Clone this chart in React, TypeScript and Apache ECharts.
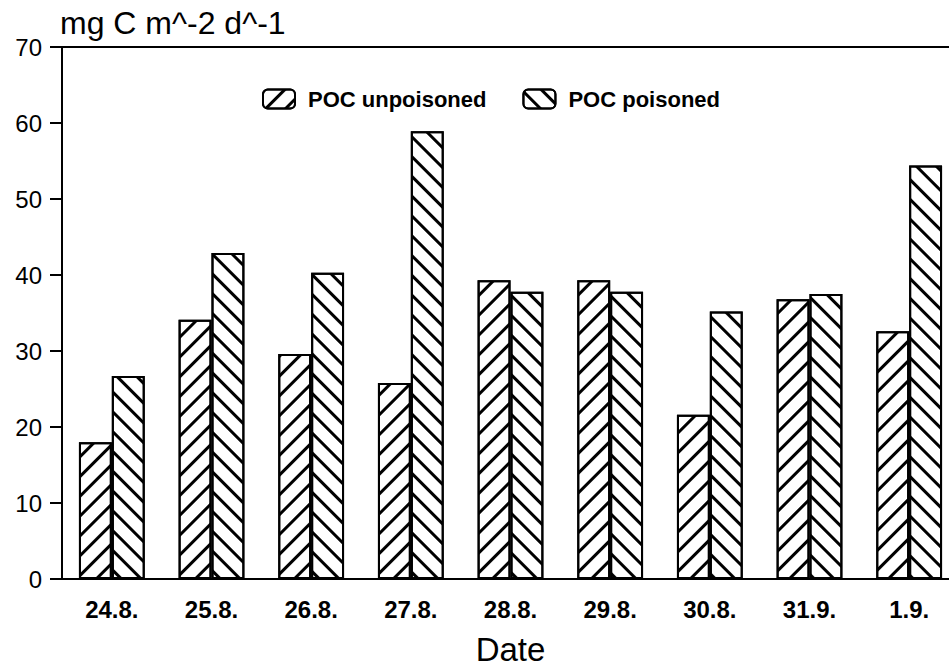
import React, { useEffect, useRef } from "react";
import * as echarts from "echarts";

const categories = ["24.8.", "25.8.", "26.8.", "27.8.", "28.8.", "29.8.", "30.8.", "31.9.", "1.9."];
const unpoisoned = [18.0, 34.1, 29.6, 25.8, 39.3, 39.3, 21.6, 36.8, 32.6];
const poisoned = [26.7, 42.9, 40.3, 58.9, 37.8, 37.8, 35.2, 37.5, 54.4];
const yTicks = { min: 0, max: 70, interval: 10 };

const FONT = "Liberation Sans, Arial, sans-serif";

export default function App() {
  const ref = useRef<HTMLDivElement>(null);
  useEffect(() => {
    if (!ref.current) return;
    const chart = echarts.init(ref.current, undefined, { renderer: "svg" });
    const hatch = (rot: number) => ({
      symbol: "rect",
      symbolSize: 1,
      dashArrayX: [1, 0],
      dashArrayY: [2.5, 11],
      rotation: rot,
      color: "#000",
    });
    chart.setOption({
      animation: false,
      backgroundColor: "#fff",
      textStyle: { fontFamily: FONT, color: "#000" },
      title: {
        text: "mg C m^-2 d^-1",
        left: 55,
        top: 2,
        textStyle: { fontSize: 32, fontWeight: "normal", color: "#000", fontFamily: FONT },
      },
      legend: {
        top: 83,
        left: 257,
        itemWidth: 32,
        itemHeight: 19,
        itemGap: 36,
        textStyle: { fontSize: 22, fontWeight: "bold", color: "#000", fontFamily: FONT, padding: [0, 0, 0, 8] },
        data: ["POC unpoisoned", "POC poisoned"],
      },
      grid: {
        left: 62,
        top: 47,
        width: 897,
        height: 532,
        outerBoundsMode: "none",
        containLabel: false,
        show: true,
        borderColor: "#000",
        borderWidth: 2,
        backgroundColor: "transparent",
      },
      xAxis: {
        type: "category",
        data: categories,
        name: "Date",
        nameLocation: "middle",
        nameGap: 54,
        nameTextStyle: { fontSize: 33, color: "#000", fontFamily: FONT },
        axisLine: { lineStyle: { color: "#000", width: 2 } },
        axisTick: { alignWithLabel: true, length: 11, lineStyle: { color: "#000", width: 2 } },
        axisLabel: { fontSize: 24, fontWeight: "bold", color: "#000", margin: 18, fontFamily: FONT },
        splitLine: { show: false },
      },
      yAxis: {
        type: "value",
        min: yTicks.min,
        max: yTicks.max,
        interval: yTicks.interval,
        axisLine: { show: true, lineStyle: { color: "#000", width: 2 } },
        axisTick: { show: true, length: 12, lineStyle: { color: "#000", width: 2 } },
        axisLabel: { fontSize: 24, color: "#000", margin: 20, fontFamily: FONT },
        splitLine: { show: false },
      },
      series: [
        {
          name: "POC unpoisoned",
          type: "bar",
          data: unpoisoned,
          barGap: "0%",
          barCategoryGap: "34%",
          itemStyle: { color: "#fff", borderColor: "#000", borderWidth: 2, decal: hatch(-Math.PI / 4) },
        },
        {
          name: "POC poisoned",
          type: "bar",
          data: poisoned,
          barGap: "0%",
          barCategoryGap: "34%",
          itemStyle: { color: "#fff", borderColor: "#000", borderWidth: 2, decal: hatch(Math.PI / 4) },
        },
      ],
    });
    return () => chart.dispose();
  }, []);
  return <div ref={ref} style={{ position: "fixed", left: 0, top: 0, width: 949, height: 670, background: "#fff" }} />;
}
